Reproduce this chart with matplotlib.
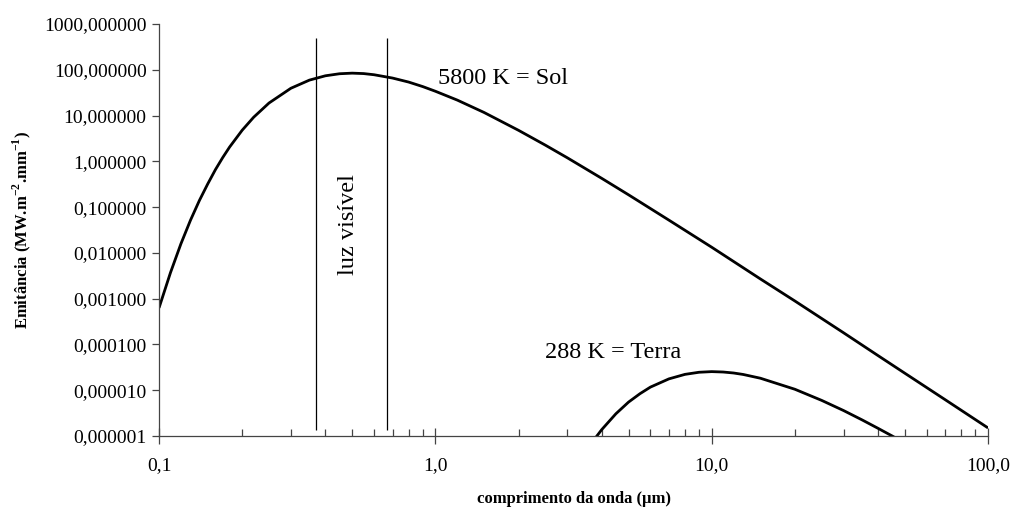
import matplotlib
matplotlib.use("Agg")
import matplotlib.pyplot as plt
from matplotlib.ticker import FixedLocator, LogLocator, NullLocator, FuncFormatter

# wavelength (um) and emittance (MW m-2 um-1)
lam_sol = [0.10, 0.11, 0.12, 0.13, 0.14, 0.15, 0.16, 0.17, 0.18, 0.20, 0.22, 0.25,
           0.30, 0.35, 0.40, 0.45, 0.50, 0.55, 0.60, 0.70, 0.80, 0.90, 1.0, 1.2,
           1.5, 2.0, 2.5, 3.0, 4.0, 5.0, 7.0, 10, 15, 20, 30, 40, 50, 70, 100]
m_sol = [0.00063, 0.0037, 0.0158, 0.052, 0.140, 0.32, 0.66, 1.21, 2.05, 4.8, 9.2, 18.8,
         39.5, 59.5, 74, 82, 84.5, 82.7, 78, 66, 54, 43, 34, 21.8,
         11.7, 4.76, 2.26, 1.20, 0.425, 0.186, 0.052, 0.0133, 0.0027, 0.00089, 0.00018,
         0.000057, 0.0000235, 0.0000062, 0.0000015]

lam_terra = [3.8, 4, 4.5, 5, 5.5, 6, 7, 8, 9, 10, 11, 12, 13, 15, 20, 25, 30, 35, 40, 45, 50]
m_terra = [9.2e-7, 1.38e-6, 3.06e-6, 5.5e-6, 8.4e-6, 1.17e-5, 1.77e-5, 2.22e-5, 2.47e-5,
           2.55e-5, 2.50e-5, 2.38e-5, 2.21e-5, 1.83e-5, 1.05e-5, 6.0e-6, 3.6e-6,
           2.25e-6, 1.47e-6, 1.0e-6, 7.0e-7]

vis_limits = [0.37, 0.67]
vis_span = [1.35e-6, 500]

y_ticks = [1e-6, 1e-5, 1e-4, 1e-3, 1e-2, 1e-1, 1, 10, 100, 1000]
x_ticks = [0.1, 1, 10, 100]

plt.rcParams['font.family'] = ['Liberation Serif', 'DejaVu Serif']
plt.rcParams['mathtext.fontset'] = 'custom'
plt.rcParams['mathtext.rm'] = 'Liberation Serif'
plt.rcParams['mathtext.bf'] = 'Liberation Serif:bold'
plt.rcParams['axes.unicode_minus'] = False

fig = plt.figure(figsize=(10.11, 5.09), dpi=100)
ax = fig.add_axes([0.1573, 0.1434, 0.82, 0.8094])

ax.plot(lam_sol, m_sol, color='black', lw=2.0, solid_capstyle='butt')
ax.plot(lam_terra, m_terra, color='black', lw=2.0, solid_capstyle='butt')
ax.vlines(vis_limits, vis_span[0], vis_span[1], color='black', lw=0.9)

ax.set_xscale('log')
ax.set_yscale('log')
ax.set_xlim(0.1, 100)
ax.set_ylim(1e-6, 1000)

ax.spines['top'].set_visible(False)
ax.spines['right'].set_visible(False)
for s in ('left', 'bottom'):
    ax.spines[s].set_color('#444444')
    ax.spines[s].set_linewidth(0.9)

ax.yaxis.set_major_locator(FixedLocator(y_ticks))
ax.yaxis.set_minor_locator(NullLocator())
ax.yaxis.set_major_formatter(FuncFormatter(lambda v, p: ('%.6f' % v).replace('.', ',')))
ax.xaxis.set_major_locator(FixedLocator(x_ticks))
ax.xaxis.set_minor_locator(LogLocator(base=10, subs=range(2, 10)))
ax.xaxis.set_major_formatter(FuncFormatter(lambda v, p: ('%.1f' % v).replace('.', ',')))

ax.tick_params(axis='y', which='major', direction='out', length=5, width=0.9,
               color='#444444', labelsize=14, pad=4)
ax.tick_params(axis='x', which='major', direction='inout', length=11, width=0.9,
               color='#444444', labelsize=14, pad=10)
ax.tick_params(axis='x', which='minor', direction='in', length=5, width=0.9,
               color='#444444')

ax.set_ylabel('Emitância (MW.m$^{\\mathbf{-2}}$.mm$^{\\mathbf{-1}}$)', fontsize=12,
              fontweight='bold', labelpad=8)
ax.set_xlabel('comprimento da onda (\u00b5m)', fontsize=12, fontweight='bold', labelpad=12)

ax.text(1.02, 66, '5800 K = Sol', fontsize=17.5, ha='left', va='center')
ax.text(4.38, 6.6e-5, '288 K = Terra', fontsize=17.5, ha='center', va='center')
ax.text(0.484, 0.041, 'luz visível', fontsize=17.5, rotation=90, ha='center', va='center')

fig.savefig('out.png', dpi=100)
